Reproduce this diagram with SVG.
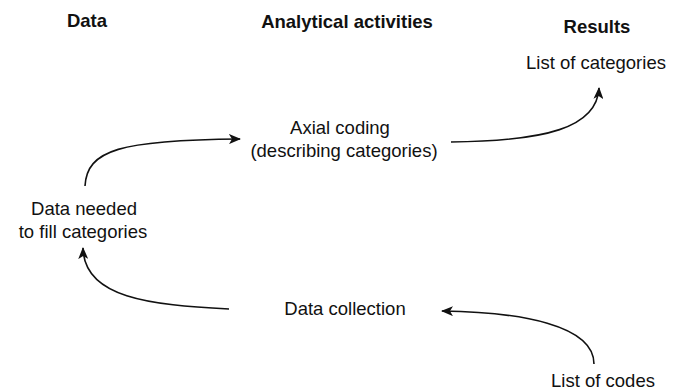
<svg xmlns="http://www.w3.org/2000/svg" width="673" height="390" viewBox="0 0 673 390">
<style>
.h{font-family:"Liberation Sans",Arial,sans-serif;font-size:18.5px;font-weight:bold;fill:#111;text-anchor:middle}
.t{font-family:"Liberation Sans",Arial,sans-serif;font-size:18.5px;fill:#111;text-anchor:middle}
.c{fill:none;stroke:#111;stroke-width:1.6;marker-end:url(#ah)}
</style>
<defs>
<marker id="ah" viewBox="0 0 12 10" refX="11" refY="5" markerWidth="12" markerHeight="10" markerUnits="userSpaceOnUse" orient="auto">
<path d="M0,0 L12,5 L0,10 L3,5 Z" fill="#111"/>
</marker>
</defs>
<rect width="673" height="390" fill="#fff"/>
<g id="headers">
<text class="h" x="87" y="27">Data</text>
<text class="h" x="347" y="28">Analytical activities</text>
<text class="h" x="597" y="33">Results</text>
</g>
<g id="list-of-categories"><text class="t" x="596" y="69">List of categories</text></g>
<g id="axial-coding">
<text class="t" x="340" y="134">Axial coding</text>
<text class="t" x="344" y="157">(describing categories)</text>
</g>
<g id="data-needed">
<text class="t" x="84" y="215">Data needed</text>
<text class="t" x="83" y="238">to fill categories</text>
</g>
<g id="data-collection"><text class="t" x="345" y="315">Data collection</text></g>
<g id="list-of-codes"><text class="t" x="603" y="387">List of codes</text></g>
<g id="connectors">
<path class="c" d="M85,186 C87,150 120,140 240,139"/>
<path class="c" d="M451,142 C545,141 597,128 599,88"/>
<path class="c" d="M229,309 C150,305 84,298 83,248"/>
<path class="c" d="M594,364 C594,325 520,312 442,311"/>
</g>
</svg>
